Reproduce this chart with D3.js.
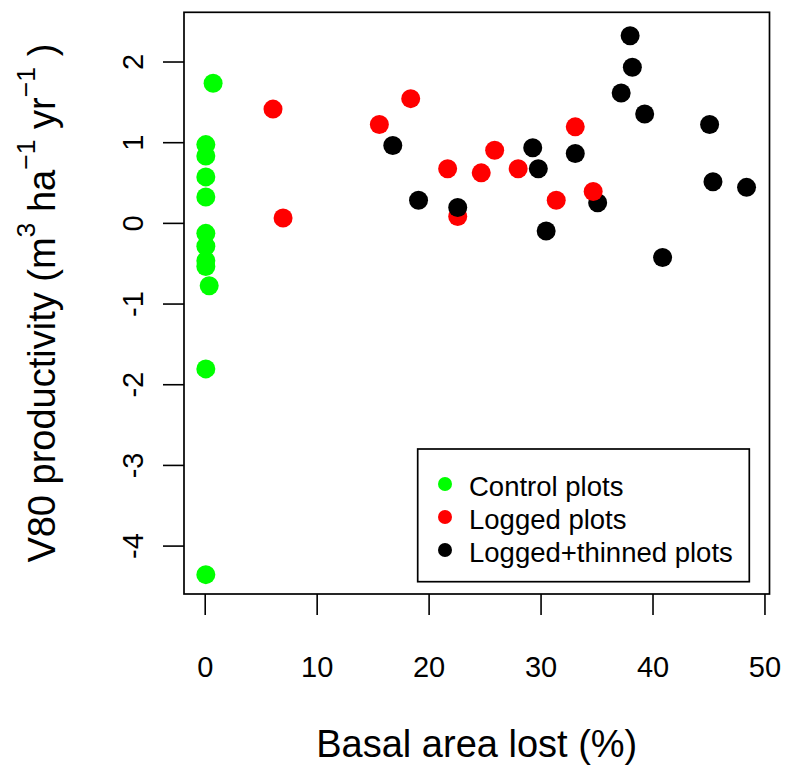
<!DOCTYPE html>
<meta charset="utf-8">
<style>
body{
  margin: 0;
  background: #fff;
}
svg{
  display: block;
  font-family: "Liberation Sans", Arial, sans-serif;
}
</style>

<svg width="786" height="765"></svg>
<script src="https://d3js.org/d3.v7.min.js"></script>
<script>

// basal area lost (%) vs V80 productivity, three plot treatments
var controlX = [0.75, 0.1, 0.1, 0.1, 0.1, 0.1, 0.1, 0.1, 0.1, 0.4, 0.1, 0.1];
var controlY = [1.73, 0.97, 0.83, 0.57, 0.32, -0.13, -0.29, -0.47, -0.54, -0.78, -1.81, -4.36];

var loggedX = [6.1, 7.0, 15.6, 18.4, 21.7, 22.6, 24.7, 25.9, 28.0, 31.4, 33.1, 34.7];
var loggedY = [1.41, 0.06, 1.22, 1.54, 0.67, 0.08, 0.62, 0.9, 0.67, 0.28, 1.19, 0.39];

var thinnedX = [16.8, 19.1, 22.6, 29.3, 29.8, 30.5, 33.1, 35.1, 37.2, 38.0, 38.2, 39.3, 40.9, 45.1, 45.4, 48.4];
var thinnedY = [0.96, 0.28, 0.19, 0.93, 0.67, -0.1, 0.86, 0.25, 1.61, 2.32, 1.93, 1.35, -0.43, 1.22, 0.51, 0.44];

var xTicks = [0, 10, 20, 30, 40, 50];
var yTicks = [-4, -3, -2, -1, 0, 1, 2];

var groups = [
  {name: "Control plots", color: "#00ff00", xs: controlX, ys: controlY},
  {name: "Logged plots", color: "#ff0000", xs: loggedX, ys: loggedY},
  {name: "Logged+thinned plots", color: "#000000", xs: thinnedX, ys: thinnedY}
];

var svg = d3.select("svg");

// plot region (window.top is reserved, so p* names)
var pLeft = 184, pRight = 769.5, pTop = 12.3, pBottom = 594;

var x = d3.scaleLinear().domain([-1.85, 50.45]).range([pLeft, pRight]);
var y = d3.scaleLinear().domain([-4.6, 2.61]).range([pBottom, pTop]);

var tickLen = 21, tickFont = 29, titleFont = 38;

// axes
var xAxis = svg.append("g")
    .attr("transform", "translate(0," + pBottom + ")")
    .call(d3.axisBottom(x).tickValues(xTicks).tickSize(tickLen).tickSizeOuter(0));
xAxis.select(".domain").remove();

var yAxis = svg.append("g")
    .attr("transform", "translate(" + pLeft + ",0)")
    .call(d3.axisLeft(y).tickValues(yTicks).tickSize(tickLen).tickSizeOuter(0).tickFormat(function(d) { return String(d); }));
yAxis.select(".domain").remove();

svg.selectAll(".tick line").attr("stroke", "#000").attr("stroke-width", 1.6);
svg.selectAll(".tick text")
    .attr("fill", "#000")
    .style("font-size", tickFont + "px")
    .style("font-family", "'Liberation Sans', Arial, sans-serif");

xAxis.selectAll(".tick text")
    .attr("dy", null)
    .attr("y", 677 - pBottom);

yAxis.selectAll(".tick text")
    .attr("x", null).attr("dy", null)
    .attr("text-anchor", "middle")
    .attr("transform", "translate(-41,0) rotate(-90)");

// plot frame
svg.append("rect")
    .attr("x", pLeft).attr("y", pTop)
    .attr("width", pRight - pLeft).attr("height", pBottom - pTop)
    .attr("fill", "none").attr("stroke", "#000").attr("stroke-width", 1.7);

// points, lower values first so overlaps stack like the original
var pts = [];
groups.forEach(function(g) {
  g.xs.forEach(function(v, i) { pts.push({x: v, y: g.ys[i], color: g.color}); });
});
pts.sort(function(a, b) { return a.y - b.y; });

svg.append("g").selectAll("circle")
  .data(pts)
  .enter().append("circle")
    .attr("cx", function(d) { return x(d.x); })
    .attr("cy", function(d) { return y(d.y); })
    .attr("r", 9.5)
    .attr("fill", function(d) { return d.color; });

// legend
var lg = svg.append("g");
lg.append("rect")
    .attr("x", 417.7).attr("y", 449)
    .attr("width", 331.6).attr("height", 132.7)
    .attr("fill", "#fff").attr("stroke", "#000").attr("stroke-width", 1.7);

var items = lg.selectAll("g.item")
  .data(groups)
  .enter().append("g")
    .attr("transform", function(d, i) { return "translate(0," + (i * 33) + ")"; });

items.append("circle")
    .attr("cx", 445).attr("cy", 484)
    .attr("r", 7)
    .attr("fill", function(d) { return d.color; });

items.append("text")
    .attr("x", 469).attr("y", 496)
    .attr("font-size", 27.5)
    .text(function(d) { return d.name; });

// axis titles
svg.append("text")
    .attr("x", (pLeft + pRight) / 2).attr("y", 757)
    .attr("text-anchor", "middle")
    .attr("font-size", titleFont)
    .text("Basal area lost (%)");

var yt = svg.append("text")
    .attr("transform", "translate(55," + ((pTop + pBottom) / 2) + ") rotate(-90)")
    .attr("text-anchor", "middle")
    .attr("font-size", titleFont);

var supSize = titleFont * 0.7, raise = 20;
yt.append("tspan").text("V80 productivity (m");
yt.append("tspan").attr("dy", -raise).attr("font-size", supSize).text("3");
yt.append("tspan").attr("dy", raise).text("\u00a0ha");
yt.append("tspan").attr("dy", -raise).attr("font-size", supSize).text("\u22121");
yt.append("tspan").attr("dy", raise).text("\u00a0yr");
yt.append("tspan").attr("dy", -raise).attr("font-size", supSize).text("\u22121");
yt.append("tspan").attr("dy", raise).text("\u00a0)");

</script>
